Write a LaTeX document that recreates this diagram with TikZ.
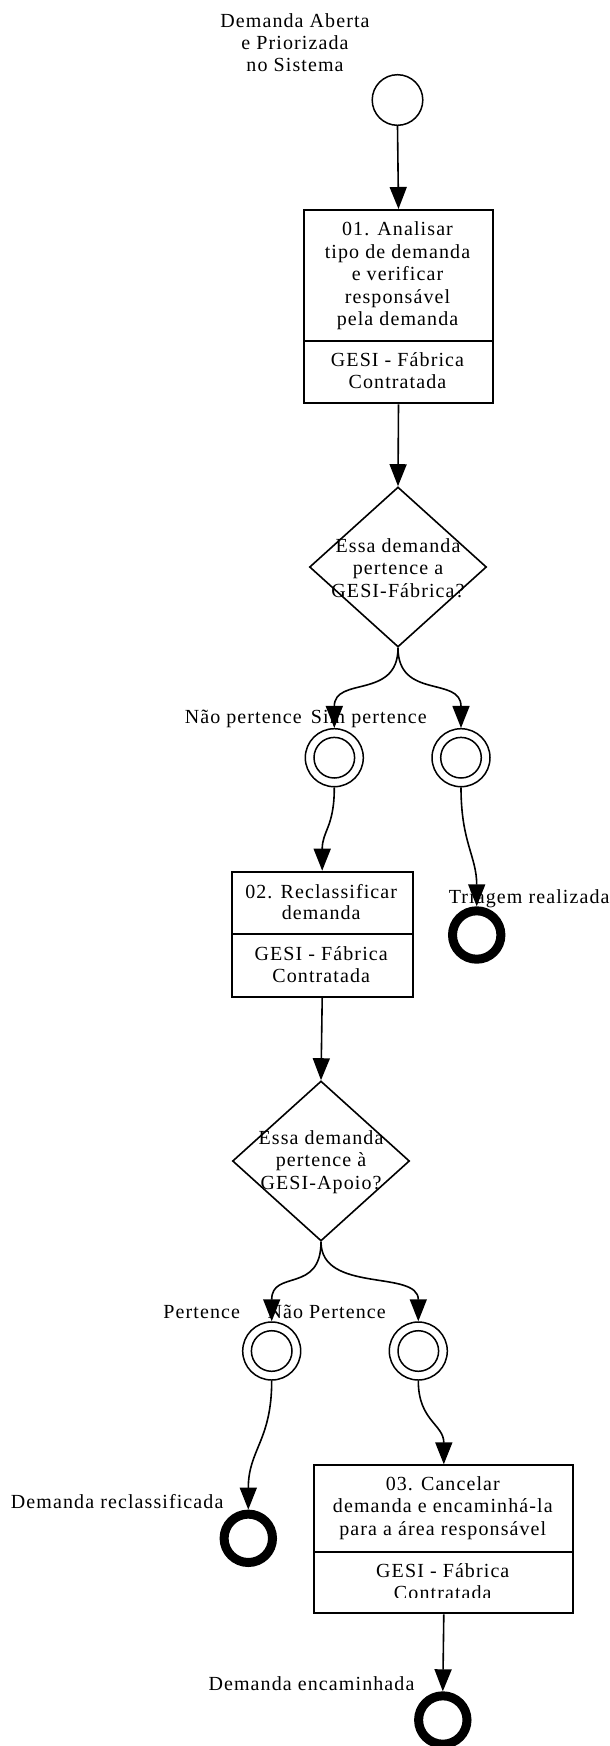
\documentclass[tikz,border=0pt]{standalone}
\usepackage{fontspec}
\setmainfont{Liberation Serif}[LetterSpace=5.5]
\usetikzlibrary{shapes.geometric,arrows.meta}
\begin{document}
\begin{tikzpicture}[x=1pt,y=-1pt,
  every node/.style={font=\fontsize{20pt}{22pt}\selectfont, inner sep=0pt},
  txt/.style={align=center},
  part/.style={draw, rectangle, line width=2pt, anchor=north west},
  startev/.style={circle, draw, line width=1.5pt, minimum size=50.6pt},
  inter/.style={circle, draw, line width=1.5pt, minimum size=58pt,
    path picture={\draw[line width=1.5pt] (path picture bounding box.center) circle[radius=20.3pt];}},
  endev/.style={circle, draw, line width=9pt, minimum size=48.4pt},
  gateway/.style={diamond, draw, line width=1.6pt, minimum width=177pt, minimum height=160pt},
  flow/.style={line width=1.6pt, -{Triangle[length=22pt,width=17pt]}}
]
\useasboundingbox (0,0) rectangle (610,1746);
\fill[white] (0,0) rectangle (610,1746);

% start
\node[startev] (start) at (397.5,100) {};
\node[txt, font=\fontsize{20pt}{21.7pt}\selectfont] (slbl) at (295,42.5) {Demanda Aberta\\e Priorizada\\no Sistema};

% task 01
\node[part, minimum width=188.4pt, minimum height=131pt] (t1) at (303.3,209) {};
\node[part, minimum width=188.4pt, minimum height=62.3pt] (t1l) at (303.3,340) {};
\node[txt, font=\fontsize{20pt}{22.5pt}\selectfont] (t1t) at (397.5,276) {01. Analisar\\tipo de demanda\\e verificar\\responsável\\pela demanda};
\node[txt] (t1lt) at (397.5,371) {GESI - Fábrica\\Contratada};

% gateway 1
\node[gateway] (d1) at (398,567) {};
\node[txt, font=\fontsize{20pt}{22.7pt}\selectfont] (d1t) at (398,568) {Essa demanda\\pertence a\\GESI-Fábrica?};

% intermediate events 1
\node[inter] (g1a) at (334.3,757.7) {};
\node[inter] (g1b) at (461,757.7) {};
\node[anchor=base] (l1a) at (243.3,723.3) {Não pertence};
\node[anchor=base] (l1b) at (368.8,723.3) {Sim pertence};

% task 02
\node[part, minimum width=181pt, minimum height=62.6pt] (t2) at (230.7,870.7) {};
\node[part, minimum width=181pt, minimum height=62.7pt] (t2l) at (230.7,933.3) {};
\node[txt, font=\fontsize{20pt}{20.5pt}\selectfont] (t2t) at (321.2,902) {02. Reclassificar\\demanda};
\node[txt] (t2lt) at (321.2,965) {GESI - Fábrica\\Contratada};

% end 1
\node[endev] (end1) at (476.7,935) {};
\node[anchor=base] (l1e) at (529.2,903.3) {Triagem realizada};

% gateway 2
\node[gateway] (d2) at (321,1161) {};
\node[txt, font=\fontsize{20pt}{22.5pt}\selectfont] (d2t) at (321,1162) {Essa demanda\\pertence à\\GESI-Apoio?};

% intermediate events 2
\node[inter] (g2a) at (271.7,1351) {};
\node[inter] (g2b) at (418.3,1351) {};
\node[anchor=base] (l2a) at (201.7,1318.3) {Pertence};
\node[anchor=base] (l2b) at (326.7,1318.3) {Não Pertence};

% end 2
\node[endev] (end2) at (248.3,1538.3) {};
\node[anchor=base] (l2e) at (117.2,1508.3) {Demanda reclassificada};

% task 03
\node[part, minimum width=259pt, minimum height=86.4pt] (t3) at (313.3,1464.3) {};
\node[part, minimum width=259pt, minimum height=61.6pt] (t3l) at (313.3,1550.7) {};
\node[txt, font=\fontsize{20pt}{22.3pt}\selectfont] (t3t) at (442.8,1508) {03. Cancelar\\demanda e encaminhá-la\\para a área responsável};
\begin{scope}
\clip (314,1552) rectangle (572,1597.7);
\node[txt] (t3lt) at (442.8,1582) {GESI - Fábrica\\Contratada};
\end{scope}

% end 3
\node[endev] (end3) at (442.8,1720) {};
\node[anchor=base] (l3e) at (311.5,1690.7) {Demanda encaminhada};

% flows
\draw[flow] (start.south) -- (t1.north);
\draw[flow] (t1l.south) -- (d1.north);
\draw[flow] (d1.south) .. controls +(0,52) and +(0,-52) .. (g1a.north);
\draw[flow] (d1.south) .. controls +(0,52) and +(0,-52) .. (g1b.north);
\draw[flow] (g1a.south) .. controls +(0,40) and +(0,-40) .. (t2.north);
\draw[flow] (g1b.south) .. controls +(0,55) and +(0,-50) .. (end1.north);
\draw[flow] (t2l.south) -- (d2.north);
\draw[flow] (d2.south) .. controls +(0,52) and +(0,-52) .. (g2a.north);
\draw[flow] (d2.south) .. controls +(0,52) and +(0,-52) .. (g2b.north);
\draw[flow] (g2a.south) .. controls +(0,60) and +(0,-60) .. (end2.north);
\draw[flow] (g2b.south) .. controls +(0,40) and +(0,-40) .. (t3.north);
\draw[flow] (t3l.south) -- (end3.north);
\end{tikzpicture}
\end{document}
